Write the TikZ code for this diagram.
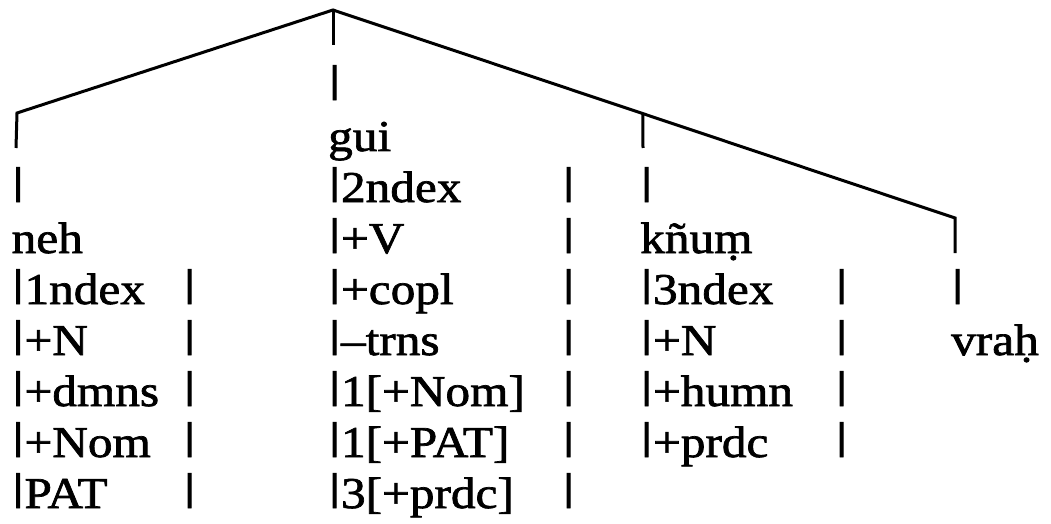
\documentclass[tikz,border=0pt]{standalone}
\usepackage{fontspec}
\setmainfont{Liberation Serif}[FakeStretch=1.12, FakeBold=1.6]
\usepackage{graphicx}
% bar standing on the baseline, as in the typed original
\newcommand{\vbar}{\scalebox{1.3}[0.87]{\raisebox{\depth}{|}}}

\begin{document}
\begin{tikzpicture}[x=1pt, y=1pt]
  \tikzstyle{every node}=[inner sep=0pt, anchor=base west, font=\fontsize{44}{51}\selectfont]
  \tikzstyle{branch}=[line width=3pt]
  \useasboundingbox (0,0) rectangle (1051,523);

  % tree lines
  \coordinate (Root) at (333,513);
  \coordinate (RootFoot) at (333,478);
  \coordinate (NehTurn) at (17,410);
  \coordinate (NehFoot) at (16,375);
  \coordinate (VrahTurn) at (955,305);
  \coordinate (VrahFoot) at (955,270);
  \path (Root) -- (VrahTurn) coordinate[pos=0.498] (KnumTurn);
  \coordinate (KnumFoot) at (643,375);
  \draw[branch] (NehFoot) -- (NehTurn) -- (Root) -- (VrahTurn) -- (VrahFoot);
  \draw[branch] (Root) -- (RootFoot);
  \draw[branch] (KnumTurn) -- (KnumFoot);

  % columns of features
  \node (rootbar) at (328,423) {\vbar};
  \foreach \txt [count=\i] in {\vbar, neh, \vbar 1ndex, \vbar+N, \vbar+dmns, \vbar+Nom, \vbar PAT}
    \node (neh\i) at (11.5,{372-51*\i}) {\txt};
  \foreach \txt [count=\i from 0] in {gui, \vbar 2ndex, \vbar+V, \vbar+copl, \vbar–trns, \vbar 1[+Nom], \vbar 1[+PAT], \vbar 3[+prdc]}
    \node (gui\i) at (328,{372-51*\i}) {\txt};
  \foreach \txt [count=\i] in {\vbar, kñuṃ, \vbar 3ndex, \vbar+N, \vbar+humn, \vbar+prdc}
    \node (knum\i) at (640,{372-51*\i}) {\txt};
  \foreach \txt [count=\i from 3] in {\vbar, vraḥ}
    \node (vrah\i) at (951,{372-51*\i}) {\txt};

  % closing bars
  \foreach \i in {3,...,7}
    \node (nehsep\i) at (183,{372-51*\i}) {\vbar};
  \foreach \i in {1,...,7}
    \node (guisep\i) at (562,{372-51*\i}) {\vbar};
  \foreach \i in {3,...,6}
    \node (knumsep\i) at (835,{372-51*\i}) {\vbar};
\end{tikzpicture}
\end{document}
